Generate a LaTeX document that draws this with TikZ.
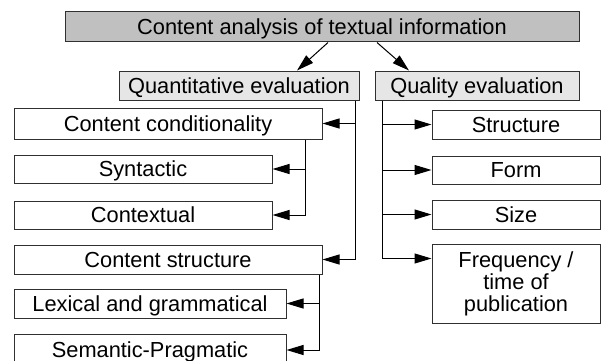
\documentclass[tikz,border=0pt]{standalone}
\usepackage{fontspec}
\setmainfont{Liberation Sans}
\usetikzlibrary{arrows.meta, positioning}
\definecolor{HeadGray}{HTML}{C0C0C0}
\definecolor{SubGray}{HTML}{E6E6E6}
\definecolor{Frame}{HTML}{303030}
\tikzset{
  box/.style={draw=Frame, line width=1pt, fill=white, inner sep=0pt, text=black,
    font=\fontsize{21.8}{22}\selectfont, text height=15.6pt, text depth=0pt},
  tallbox/.style={box, text height=, text depth=, align=center},
  headbox/.style={box, fill=HeadGray},
  subbox/.style={box, fill=SubGray},
  link/.style={-{Triangle[length=17pt, width=10pt]}, line width=1pt, color=black},
}

\begin{document}
\begin{tikzpicture}[x=1pt, y=-1pt]
  \clip (0,0) rectangle (602,361);
  \useasboundingbox (0,0) rectangle (602,361);

  % Head and the two evaluations
  \node[headbox, minimum width=514pt, minimum height=30pt] (head) at (322,27) {Content analysis of textual information};
  \node[subbox, minimum width=240pt, minimum height=29pt] (quant) at (239,85.5) {Quantitative evaluation};
  \node[subbox, minimum width=204pt, minimum height=29pt] (qual) at (477,85.5) {Quality evaluation};
  \draw[link] ([xshift=6pt]head.south) -- ([xshift=58pt]quant.north);
  \draw[link] ([xshift=55pt]head.south) -- ([xshift=-68pt]qual.north);

  % Quantitative branch
  \node[box, minimum width=308pt, minimum height=31pt] (cond) at (168,123.5) {Content conditionality};
  \node[box, minimum width=258pt, minimum height=28pt] (synt) at (143,169) {Syntactic};
  \node[box, minimum width=258pt, minimum height=28pt] (cont) at (143,215) {Contextual};
  \node[box, minimum width=308pt, minimum height=29pt] (cstr) at (168,259.5) {Content structure};
  \node[box, minimum width=272pt, minimum height=29pt] (lexg) at (150,303.5) {Lexical and grammatical};
  \node[box, minimum width=272pt, minimum height=32pt] (semp) at (150,350) {Semantic-Pragmatic};

  \coordinate (qt) at ([xshift=-4pt]quant.south east);
  \coordinate (ct) at ([xshift=-17pt]cond.south east);
  \coordinate (st) at ([xshift=-3pt]cstr.south east);
  \draw[link] (qt) |- (cstr.east);
  \draw[link] (qt |- cond.east) -- (cond.east);
  \draw[link] (ct) |- (cont.east);
  \draw[link] (ct |- synt.east) -- (synt.east);
  \draw[link] (st) |- (semp.east);
  \draw[link] (st |- lexg.east) -- (lexg.east);

  % Quality branch
  \node[box, minimum width=168pt, minimum height=29pt] (stru) at (516,124.5) {Structure};
  \node[box, minimum width=168pt, minimum height=28pt] (form) at (516,170) {Form};
  \node[box, minimum width=168pt, minimum height=29pt] (size) at (516,214.5) {Size};
  \node[tallbox, minimum width=168pt, minimum height=79pt] (freq) at (516,283.5) {Frequency /\\time of\\publication};

  \coordinate (lt) at ([xshift=8pt]qual.south west);
  \draw[link] (lt) |- ([yshift=-15pt]freq.north west);
  \draw[link] (lt |- stru.west) -- (stru.west);
  \draw[link] (lt |- form.west) -- (form.west);
  \draw[link] (lt |- size.west) -- (size.west);
\end{tikzpicture}
\end{document}
